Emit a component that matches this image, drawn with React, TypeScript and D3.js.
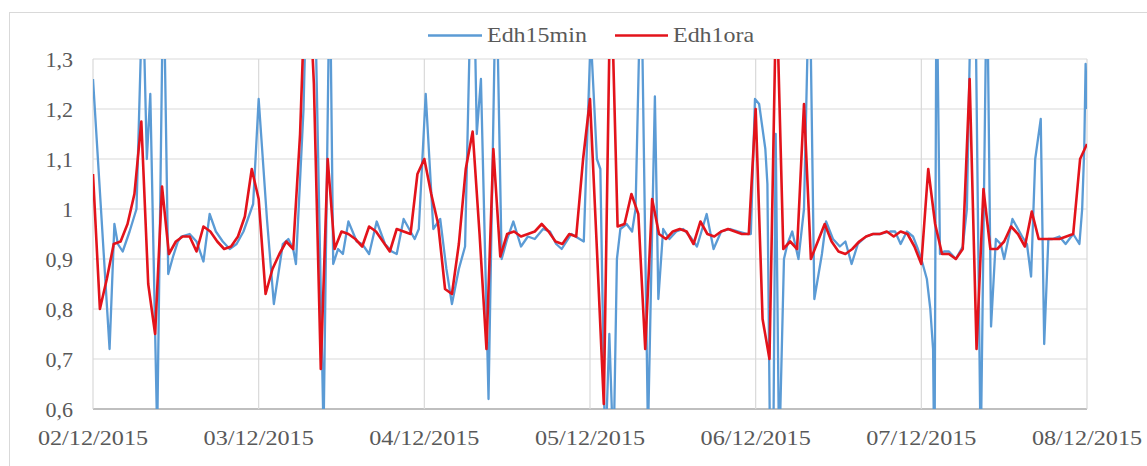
import React from "react";
import * as d3 from "d3";

// ---- data ----
const dateLabels = ["02/12/2015", "03/12/2015", "04/12/2015", "05/12/2015", "06/12/2015", "07/12/2015", "08/12/2015"];
const yTickValues = [0.6, 0.7, 0.8, 0.9, 1.0, 1.1, 1.2, 1.3];
const yTickLabels = ["0,6", "0,7", "0,8", "0,9", "1", "1,1", "1,2", "1,3"];
const seriesNames = ["Edh15min", "Edh1ora"];

// Edh1ora: hourly values, hour 0 = 02/12/2015 00:00
const edh1ora = [
  1.07, 0.80, 0.86, 0.93, 0.935, 0.97, 1.03, 1.175, 0.85, 0.75, 1.045, 0.91, 0.935, 0.945, 0.945, 0.915, 0.965, 0.955, 0.935, 0.92, 0.925, 0.945, 0.985, 1.08,
  1.02, 0.83, 0.88, 0.91, 0.935, 0.92, 1.15, 1.55, 1.25, 0.68, 1.10, 0.92, 0.955, 0.95, 0.94, 0.925, 0.965, 0.955, 0.935, 0.915, 0.96, 0.955, 0.95, 1.07,
  1.10, 1.03, 0.97, 0.84, 0.83, 0.93, 1.08, 1.155, 0.95, 0.72, 1.12, 0.905, 0.95, 0.955, 0.945, 0.95, 0.955, 0.97, 0.955, 0.935, 0.93, 0.95, 0.945, 1.10,
  1.22, 0.92, 0.61, 1.50, 0.965, 0.97, 1.03, 0.99, 0.72, 1.02, 0.95, 0.94, 0.955, 0.96, 0.955, 0.93, 0.975, 0.95, 0.945, 0.955, 0.96, 0.955, 0.95, 0.95,
  1.20, 0.78, 0.70, 1.45, 0.92, 0.935, 0.92, 1.21, 0.90, 0.935, 0.97, 0.935, 0.915, 0.91, 0.92, 0.935, 0.945, 0.95, 0.95, 0.955, 0.945, 0.955, 0.95, 0.925,
  0.89, 1.08, 0.97, 0.91, 0.91, 0.90, 0.92, 1.26, 0.72, 1.04, 0.92, 0.92, 0.935, 0.965, 0.95, 0.925, 0.995, 0.94, 0.94, 0.94, 0.94, 0.945, 0.95, 1.10, 1.13,
];

// Edh15min: readings (hour offset, value) as seen on the picture
const edh15minHours = [
  0, 2.4, 3.1, 3.6, 4.3, 5.3, 6.3, 7.2, 7.8, 8.3, 9.3, 10.2, 10.9, 11.6, 12.3, 12.8, 14.0, 15.0, 16.0, 16.9, 17.8, 18.8, 19.8, 20.8, 21.8, 23.2, 24.0, 25.2, 26.2,
  27.5, 28.3, 29.0, 29.4, 30.5, 31.2, 32.2, 33.4, 34.3, 34.8, 35.5, 36.2, 37.0, 38.2, 39.0, 40.0, 41.1, 42.3, 43.3, 44.0, 45.0, 46.0, 46.6, 47.2, 48.2, 49.3,
  50.3, 51.2, 52.0, 53.0, 53.9, 55.0, 55.6, 56.2, 57.3, 58.4, 59.2, 60.0, 60.9, 62.0, 63.0, 64.0, 65.2, 66.2, 67.1, 67.9, 69.3, 70.5, 71.1,
  72.1, 73.0, 73.5, 74.2, 74.8, 75.4, 75.9, 76.4, 77.3, 78.1, 78.6, 79.4, 80.4, 81.4, 81.9, 82.6, 83.5, 84.5, 85.5, 86.5, 87.5, 88.9, 89.9, 91.0, 92.3, 93.5, 94.8, 95.3,
  95.9, 96.5, 97.4, 97.7, 98.1, 98.6, 98.9, 99.4, 100.1, 100.6, 101.3, 102.2, 103.0, 103.8, 104.5, 105.6, 106.2, 107.2, 108.2, 109.0, 109.9, 110.8, 112.0, 113.0, 114.0, 115.5, 116.2, 117.0, 117.9, 118.8, 119.5,
  120.1, 120.8, 121.3, 121.7, 121.9, 122.2, 122.7, 123.3, 124.0, 125.0, 126.0, 126.6, 127.4, 127.9, 128.6, 129.5, 130.1, 130.8, 131.5, 132.0, 133.2, 134.6, 135.3, 135.9, 136.5, 137.3, 137.8, 138.4, 139.0, 140.0, 140.9, 142.0, 142.9, 143.3, 143.6, 143.8, 144.0,
];
const edh15minValues = [
  1.26, 0.72, 0.97, 0.93, 0.915, 0.955, 1.0, 1.45, 1.10, 1.23, 0.55, 1.5, 0.87, 0.905, 0.935, 0.945, 0.95, 0.935, 0.895, 0.99, 0.955, 0.935, 0.92, 0.93, 0.955, 1.01, 1.22, 0.98, 0.81,
  0.93, 0.94, 0.92, 0.89, 1.2, 1.6, 1.4, 0.55, 1.5, 0.89, 0.92, 0.91, 0.975, 0.935, 0.93, 0.91, 0.975, 0.93, 0.915, 0.91, 0.98, 0.955, 0.94, 0.96, 1.23, 0.96,
  0.98, 0.88, 0.81, 0.88, 0.925, 1.6, 1.15, 1.26, 0.62, 1.5, 0.90, 0.94, 0.975, 0.925, 0.945, 0.94, 0.96, 0.955, 0.93, 0.92, 0.95, 0.94, 0.935,
  1.35, 1.10, 1.08, 0.5, 0.75, 0.5, 0.90, 0.96, 0.97, 0.955, 1.0, 1.5, 0.55, 1.225, 0.82, 0.96, 0.94, 0.955, 0.96, 0.945, 0.925, 0.99, 0.92, 0.955, 0.96, 0.955, 0.95, 0.95,
  1.22, 1.21, 1.12, 1.05, 0.5, 0.6, 1.15, 0.5, 0.90, 0.93, 0.955, 0.90, 1.0, 1.5, 0.82, 0.91, 0.975, 0.94, 0.925, 0.935, 0.89, 0.93, 0.945, 0.95, 0.95, 0.955, 0.955, 0.93, 0.955, 0.945, 0.92,
  0.895, 0.86, 0.80, 0.72, 0.45, 1.5, 0.91, 0.915, 0.915, 0.90, 0.925, 1.0, 1.6, 1.35, 0.5, 1.5, 0.765, 0.94, 0.93, 0.90, 0.98, 0.945, 0.93, 0.865, 1.10, 1.18, 0.73, 0.94, 0.94, 0.945, 0.93, 0.95, 0.93, 1.0, 1.12, 1.29, 1.2,
];

const W = 1147;
const H = 466;
const M = { left: 93, right: 1087, top: 59, bottom: 409 };
const BLUE = "#5B9BD5";
const RED = "#E3131B";
const TEXT = "#595959";
const GRID = "#D9D9D9";
const FONT = '"Liberation Serif", "Times New Roman", Times, "DejaVu Serif", "Noto Serif", serif';

export default function App() {
  const x = d3.scaleLinear().domain([0, 144]).range([M.left, M.right]);
  const y = d3.scaleLinear().domain([0.6, 1.3]).range([M.bottom, M.top]);

  const redData: [number, number][] = edh1ora.map((v, i) => [i, v]);
  const blueData: [number, number][] = edh15minHours.map((h, i) => [h, edh15minValues[i]]);

  const line = d3
    .line<[number, number]>()
    .x((d) => x(d[0]))
    .y((d) => y(d[1]))
    .curve(d3.curveLinear);

  const dayTicks = dateLabels.map((_, i) => i * 24);

  return (
    <div style={{ position: "absolute", left: 0, top: 0, width: W, height: H, fontFamily: FONT }}>
      <svg width={W} height={H} style={{ display: "block", background: "#fff", fontFamily: FONT }}>
        <rect x={0} y={0} width={W} height={H} fill="#fff" />
        <rect x={9.5} y={12.5} width={W + 10} height={H + 10} fill="none" stroke={GRID} strokeWidth={1} />
        <defs>
          <clipPath id="plotClip">
            <rect x={M.left} y={M.top} width={M.right - M.left} height={M.bottom - M.top} />
          </clipPath>
        </defs>

        {/* horizontal gridlines */}
        {yTickValues.map((v) => (
          <line
            key={"h" + v}
            x1={M.left}
            x2={M.right}
            y1={y(v)}
            y2={y(v)}
            stroke={v === 0.6 ? "#BFBFBF" : GRID}
            strokeWidth={v === 0.6 ? 2 : 1.2}
          />
        ))}
        {/* vertical gridlines */}
        {dayTicks.map((t) => (
          <line key={"v" + t} x1={x(t)} x2={x(t)} y1={M.top} y2={M.bottom} stroke={GRID} strokeWidth={1.2} />
        ))}

        {/* y labels */}
        {yTickValues.map((v, i) => (
          <text
            key={"yl" + v}
            transform={`translate(73,${y(v) + 8}) scale(1.1,1)`}
            textAnchor="end"
            fontSize={20}
            fill={TEXT}
          >
            {yTickLabels[i]}
          </text>
        ))}
        {/* x labels */}
        {dateLabels.map((lab, i) => (
          <text
            key={"xl" + i}
            transform={`translate(${x(dayTicks[i])},445) scale(1.1,1)`}
            textAnchor="middle"
            fontSize={22}
            fill={TEXT}
          >
            {lab}
          </text>
        ))}

        <g clipPath="url(#plotClip)">
          <path d={line(blueData) || ""} fill="none" stroke={BLUE} strokeWidth={2.3} strokeLinejoin="round" />
          <path d={line(redData) || ""} fill="none" stroke={RED} strokeWidth={2.6} strokeLinejoin="round" />
        </g>

        {/* legend */}
        <line x1={428} x2={482} y1={35.5} y2={35.5} stroke={BLUE} strokeWidth={2.3} />
        <text transform="translate(487,42) scale(1.09,1)" fontSize={22} fill={TEXT}>
          {seriesNames[0]}
        </text>
        <line x1={615} x2={668} y1={35.5} y2={35.5} stroke={RED} strokeWidth={2.6} />
        <text transform="translate(673,42) scale(1.09,1)" fontSize={22} fill={TEXT}>
          {seriesNames[1]}
        </text>
      </svg>
    </div>
  );
}
